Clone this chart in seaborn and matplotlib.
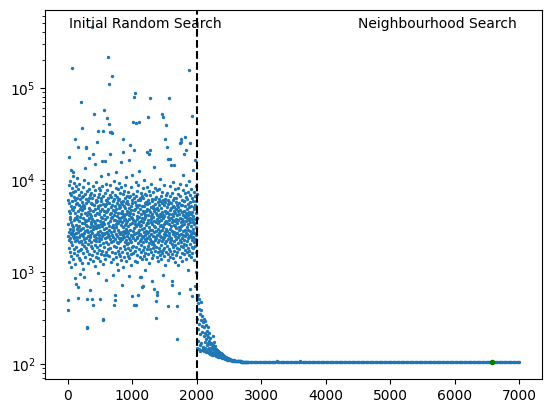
import numpy as np
import pandas as pd
import seaborn as sns
import matplotlib.pyplot as plt

# cost of each evaluated solution
# random phase: every 2nd iteration from 0 to 1998
random_cost = [
    2480, 6120, 3350, 500, 390, 8740, 1830, 4620, 2710, 1290, 5560, 17600, 2240, 3980, 7150, 1650, 2930, 4410, 9630, 2360,
    3720, 1480, 5240, 2570, 12800, 6830, 2140, 3460, 1120, 4870, 2690, 8150, 1960, 165000, 3210, 5890, 2430, 1370, 7420, 3050,
    12300, 11000, 2850, 4730, 1590, 6470, 2320, 3640, 9280, 1760, 5120, 2560, 3890, 1210, 7640, 28000, 2180, 860, 4350, 6010,
    2620, 5470, 1880, 3270, 8560, 2410, 740, 4090, 6390, 2950, 1540, 3780, 10400, 2230, 5680, 1690, 3110, 7880, 2740, 520,
    23000, 680, 4560, 2380, 6920, 1420, 3190, 5310, 2090, 8940, 3560, 1730, 4780, 2520, 960, 6240, 2870, 1350, 3930, 5050,
    2160, 4240, 1780, 7360, 70000, 2960, 5730, 1260, 3440, 2590, 37000, 6580, 2030, 4690, 1610, 8370, 3020, 2450, 5380, 1090,
    3840, 6710, 2290, 880, 4920, 1930, 3390, 9870, 2640, 5160, 1470, 3710, 2120, 7040, 4380, 13400, 2780, 1830, 6160, 3250,
    5620, 2340, 23000, 22000, 3560, 510, 250, 245, 4130, 1680, 2870, 7560, 3120, 1240, 5830, 2470, 9210, 3660, 1990, 4470,
    2700, 6430, 1570, 3830, 2210, 5010, 17500, 8020, 2520, 4260, 1380, 3060, 6890, 2390, 4720, 640, 3490, 1900, 5590, 2800,
    4010, 2090, 7270, 3330, 1530, 510, 5450, 2650, 460000, 3780, 1810, 6320, 440, 2940, 4590, 19000, 1320, 3170, 8690, 2430,
    5290, 1710, 3590, 2250, 52000, 6770, 2990, 4160, 1160, 7740, 3410, 2540, 14900, 4850, 1970, 3010, 6060, 2360, 1450, 5760,
    3150, 9460, 2170, 4420, 1620, 5940, 2610, 3700, 26000, 1880, 4930, 34000, 2730, 6550, 1410, 3270, 970, 5180, 2310, 8230,
    2500, 4310, 1740, 6940, 3050, 2150, 5350, 1310, 3610, 7820, 510, 2820, 4540, 1950, 10900, 3360, 2270, 5900, 1580, 4000,
    6290, 2660, 3880, 1700, 4770, 16000, 2440, 8590, 3180, 1230, 300, 310, 5520, 2040, 3490, 34000, 6680, 2580, 1510, 4190,
    2920, 57000, 4650, 1860, 3300, 16000, 7160, 2330, 5240, 1400, 3750, 2640, 6040, 810, 2110, 4480, 9020, 3010, 1640, 5430,
    2370, 3920, 7700, 1540, 4600, 47000, 2720, 5830, 1990, 3420, 11700, 2560, 4800, 217000, 6370, 1760, 3160, 2440, 5600, 40000,
    110000, 2860, 1490, 4280, 6860, 33000, 19000, 2270, 3540, 8880, 1800, 5070, 2690, 3820, 1270, 33000, 4370, 2120, 6460, 3090,
    1660, 5360, 2530, 3980, 135000, 32000, 7450, 2190, 4700, 1380, 3270, 930, 5920, 2420, 3660, 9740, 1920, 4120, 2770, 6180,
    440, 2980, 4510, 1590, 6830, 560, 500, 3700, 2300, 5150, 1440, 3340, 8100, 2610, 4850, 1870, 12100, 3050, 6500, 2140,
    3590, 1230, 5660, 2480, 4060, 7940, 2040, 3440, 1700, 6050, 2880, 4320, 1060, 5390, 2340, 3810, 9330, 1570, 4930, 2720,
    6240, 2180, 3620, 1480, 5080, 2590, 7230, 3890, 1820, 4410, 15600, 2350, 5750, 1350, 3200, 8470, 2690, 4570, 720, 3460,
    2260, 5470, 1640, 3970, 6970, 2500, 4210, 1120, 3110, 5860, 28000, 20000, 2820, 7590, 1910, 3640, 2390, 5270, 1460, 4050,
    8800, 2620, 3730, 1780, 4960, 2130, 6340, 3230, 1310, 5630, 2900, 4290, 10800, 2210, 3400, 1620, 6720, 2760, 4630, 1990,
    3550, 5830, 2430, 1500, 4480, 7390, 2070, 3160, 1840, 5500, 2640, 900, 4140, 6530, 2320, 3760, 16500, 1420, 5010, 2870,
    4390, 2250, 6690, 1720, 24000, 3280, 5190, 2540, 1190, 3950, 8320, 2090, 4720, 1560, 3420, 6120, 2460, 11400, 1850, 3870,
    550, 5560, 2360, 3690, 1600, 7020, 2780, 4250, 43000, 1930, 440, 3010, 79000, 6280, 2570, 21000, 4660, 1330, 3350, 5810,
    88000, 2200, 4830, 1690, 3570, 9550, 2650, 5320, 440, 3140, 41000, 1880, 6610, 2410, 4050, 1280, 3780, 7660, 2330, 5130,
    1540, 3300, 6000, 2740, 4520, 560, 2060, 8700, 3510, 1790, 5400, 2500, 4000, 12600, 42000, 2890, 1450, 6350, 3190, 2170,
    880, 4790, 2600, 5990, 1660, 3600, 7240, 2280, 880, 4220, 1980, 3250, 6700, 2470, 5150, 680, 3850, 1370, 2930, 8130,
    700, 2400, 4600, 1730, 3500, 6420, 2100, 5270, 1500, 3020, 9900, 2700, 4370, 1860, 3730, 5680, 2260, 1040, 4180, 7000,
    2550, 3930, 1620, 5740, 2810, 4560, 1390, 3230, 6920, 2150, 4890, 2630, 1760, 8420, 3440, 20000, 2350, 5450, 1900, 3680,
    6060, 2740, 4130, 48000, 1560, 3380, 2060, 7500, 4740, 2440, 19000, 1250, 5630, 3110, 2300, 4460, 77000, 1780, 6800, 2870,
    21000, 3530, 5020, 2190, 1640, 4030, 9050, 2580, 3750, 1410, 5930, 2860, 4300, 790, 2030, 6260, 3300, 1830, 4950, 2480,
    3990, 7350, 2120, 5200, 1520, 3150, 2690, 4570, 13800, 1950, 650, 3620, 6140, 2380, 4880, 1700, 3080, 8260, 2230, 5480,
    2770, 4410, 1890, 316, 3450, 480, 6590, 2340, 5000, 1470, 600, 3800, 2520, 7800, 4190, 560, 2090, 3370, 1660, 5710,
    2940, 4700, 1300, 3580, 8000, 2250, 5380, 1840, 3960, 2620, 6270, 1520, 4280, 2450, 10200, 3180, 1710, 5890, 2800, 4070,
    1980, 6650, 3270, 2420, 4930, 1380, 3690, 7470, 2160, 5560, 2880, 1610, 52000, 4500, 3100, 930, 5990, 2300, 4170, 1750,
    48000, 3860, 2600, 5300, 1490, 4010, 8900, 2370, 3300, 1820, 6160, 2710, 4620, 1200, 3520, 28000, 2040, 5700, 2960, 4350,
    2500, 6880, 1640, 39000, 3620, 2180, 5090, 1920, 4450, 2760, 7280, 23000, 3410, 1560, 5500, 2290, 3940, 1340, 425, 6010,
    17000, 2640, 4230, 1780, 3300, 5810, 77000, 2430, 3700, 1470, 17000, 6700, 2090, 4760, 2900, 1690, 8560, 3190, 4900, 2240,
    14600, 3810, 5650, 2350, 1580, 720, 4300, 2800, 800, 3460, 7180, 2010, 5190, 1420, 3670, 2560, 6100, 1860, 4080, 9400,
    2700, 4640, 1700, 3250, 6320, 14600, 2150, 5090, 3550, 1290, 2470, 4390, 7900, 1950, 3150, 5760, 2620, 1530, 4820, 3010,
    6400, 2290, 3780, 1840, 430, 5290, 2680, 4140, 185, 3380, 1650, 6950, 2400, 4570, 1190, 3630, 8200, 2060, 5020, 2830,
    590, 4260, 2520, 5560, 1760, 3090, 25000, 2250, 6760, 3840, 1440, 4710, 2910, 9100, 2130, 3520, 26000, 5340, 1900, 3190,
    28000, 2580, 4460, 1620, 3730, 6050, 2330, 5400, 1300, 3210, 2770, 7670, 4190, 1870, 11200, 2490, 3600, 5830, 2010, 4630,
    19000, 1570, 3360, 5930, 2220, 4060, 2830, 7140, 1730, 3990, 29000, 2440, 5260, 1390, 3560, 2680, 6480, 1960, 4350, 8700,
    21000, 3090, 2150, 4820, 1640, 6210, 2560, 3830, 1060, 5500, 2890, 4180, 1810, 7380, 3330, 2320, 5050, 1510, 3660, 9800,
    2460, 4520, 155000, 1690, 3470, 25000, 2780, 5710, 2010, 3900, 650, 6830, 2370, 4250, 1450, 3160, 8050, 2590, 5150, 1880,
    3730, 2240, 6300, 1590, 50000, 550, 4480, 2720, 3520, 1800, 5880, 2400, 4010, 12900, 2960, 1350, 7450, 3280, 5070, 2140,
    4790, 2650, 3410, 1930, 6670, 700, 16500, 2280, 5330, 3750, 1630, 8490, 2540, 4420, 3070, 1000, 5900, 2190, 3850, 7100,
]

# neighbourhood phase, iterations 2000-2396 every 4
fan_cost = [
    520, 150, 310, 455, 180, 560, 240, 145, 400, 275,
    505, 160, 350, 210, 140, 470, 300, 170, 390, 225,
    142, 330, 260, 155, 285,
    145, 310, 200, 138, 250, 175, 290, 150, 215, 136,
    265, 185, 140, 230, 160, 205, 134, 255, 170, 145,
    195, 133, 220, 150, 180,
    140, 165, 130, 190, 145, 128, 170, 135, 155, 127,
    148, 200, 132, 160, 126, 142, 175, 130, 150, 125,
    138, 158, 128, 145, 124,
    135, 122, 142, 128, 121, 138, 125, 132, 120, 140,
    124, 130, 119, 135, 122, 128, 118, 133, 121, 126,
    118, 130, 120, 124, 117,
]

# iterations 2400-2792 every 8
tail_cost = [
    125, 116, 122, 115, 120, 114, 118, 113, 117, 112,
    116, 112, 114, 111, 113, 110, 112, 110, 111, 109,
    111, 108.5, 110, 108, 109, 107.8, 108.5, 107.5, 108, 107.2,
    107.6, 107, 107.3, 106.8, 107, 106.6, 106.8, 106.4, 106.6, 106.2,
    106.4, 106.1, 106.2, 105.9, 106, 105.8, 105.9, 105.6, 105.7, 105.5,
]

# iterations 2800-7000 every 20
flat_cost = [
    105.4, 105.35, 105.3, 105.25, 105.2, 105.2, 105.15, 105.1, 105.1, 105.05, 105.0, 105.0,
    105.0, 104.95, 104.95, 104.9, 104.9, 104.9, 104.9, 104.85, 104.85, 104.85, 108.5, 104.85,
    104.85, 104.85, 104.85, 104.85, 104.85, 104.85, 104.85, 104.85, 104.85, 104.85, 104.85, 104.85,
    104.8, 104.8, 104.8, 104.8, 108.3, 104.8, 104.8, 104.8, 104.8, 104.8, 104.8, 104.8,
    104.8, 104.8, 104.8, 104.8, 104.8, 104.8, 104.8, 104.8, 104.8, 104.8, 104.8, 104.8,
    104.8, 104.8, 104.8, 104.8, 104.8, 104.8, 104.8, 104.8, 104.8, 104.8, 104.8, 104.8,
    104.8, 104.8, 104.8, 104.8, 104.8, 104.8, 104.8, 104.8, 104.8, 104.8, 104.8, 104.8,
    104.8, 104.8, 104.8, 104.8, 104.8, 104.8, 104.8, 104.8, 104.8, 104.8, 104.8, 104.8,
    104.8, 104.8, 104.8, 104.8, 104.8, 104.8, 104.8, 104.8, 104.8, 104.8, 104.8, 104.8,
    104.8, 104.8, 104.8, 104.8, 104.8, 104.8, 104.8, 104.8, 104.8, 104.8, 104.8, 104.8,
    104.8, 104.8, 104.8, 104.8, 104.8, 104.8, 104.8, 104.8, 104.8, 104.8, 104.8, 104.8,
    104.8, 104.8, 104.8, 104.8, 104.8, 104.8, 104.8, 104.8, 104.8, 104.8, 104.8, 104.8,
    104.8, 104.8, 104.8, 104.8, 104.8, 104.8, 104.8, 104.8, 104.8, 104.8, 104.8, 104.8,
    104.8, 104.8, 104.8, 104.8, 104.8, 104.8, 104.8, 104.8, 104.8, 104.8, 104.8, 104.8,
    104.8, 104.8, 104.8, 104.8, 104.8, 104.8, 104.8, 104.8, 104.8, 104.8, 104.8, 104.8,
    104.8, 104.8, 104.8, 104.8, 104.8, 104.8, 104.8, 104.8, 104.8, 104.8, 104.8, 104.8,
    104.8, 104.8, 104.8, 104.8, 104.8, 104.8, 104.8, 104.8, 104.8, 104.8, 104.8, 104.8,
    104.8, 104.8, 104.8, 104.8, 104.8, 104.8, 104.8,
]

best_iteration = 6575
best_cost = 104.7
switch_iteration = 2000
phase_labels = ['Initial Random Search', 'Neighbourhood Search']

# build the iteration axis for each phase
df = pd.concat([
    pd.DataFrame({'iteration': np.arange(0, 2 * len(random_cost), 2), 'cost': random_cost}),
    pd.DataFrame({'iteration': np.arange(2000, 2000 + 4 * len(fan_cost), 4), 'cost': fan_cost}),
    pd.DataFrame({'iteration': np.arange(2400, 2400 + 8 * len(tail_cost), 8), 'cost': tail_cost}),
    pd.DataFrame({'iteration': np.arange(2800, 2800 + 20 * len(flat_cost), 20), 'cost': flat_cost}),
], ignore_index=True)

fig = plt.figure(figsize=(5.51, 4.13), dpi=100)
ax = fig.add_axes([45.3 / 551, 34 / 413, 496.4 / 551, 369 / 413])

sns.scatterplot(data=df, x='iteration', y='cost', s=6, linewidth=0, color='#1f77b4', ax=ax)
sns.scatterplot(x=[best_iteration], y=[best_cost], s=16, linewidth=0, color='g', ax=ax)
ax.set_yscale('log')
ax.axvline(switch_iteration, color='k', linestyle='--')

ax.text(25, 4.5e5, phase_labels[0])
ax.text(4500, 4.5e5, phase_labels[1])
ax.set_xlabel('')
ax.set_ylabel('')

fig.savefig('out.png', dpi=100)
plt.close()
